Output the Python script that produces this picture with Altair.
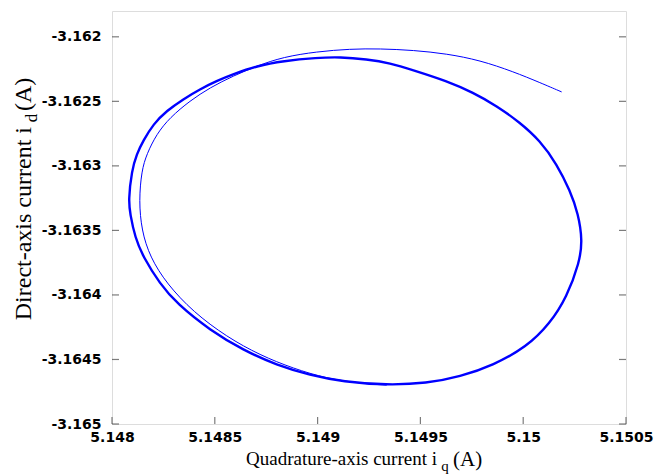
import altair as alt
import pandas as pd

# Axis tick values
x_ticks = [5.148, 5.1485, 5.149, 5.1495, 5.15, 5.1505]
y_ticks = [-3.165, -3.1645, -3.164, -3.1635, -3.163, -3.1625, -3.162]

# Limit cycle (thick closed curve)
cycle_iq = [5.148080, 5.148096, 5.148120, 5.148152, 5.148201, 5.148266, 5.148347,
            5.148428, 5.148509, 5.148590, 5.148704, 5.148833, 5.148996, 5.149109,
            5.149239, 5.149352, 5.149466, 5.149628, 5.149757, 5.149871, 5.149984,
            5.150082, 5.150163, 5.150228, 5.150268, 5.150288, 5.150274, 5.150212,
            5.150130, 5.150017, 5.149855, 5.149693, 5.149531, 5.149336, 5.149125,
            5.148963, 5.148801, 5.148639, 5.148477, 5.148315, 5.148233, 5.148152,
            5.148112, 5.148088]
cycle_id = [-3.163269, -3.163037, -3.162908, -3.162805, -3.162676, -3.162573, -3.162483,
            -3.162406, -3.162342, -3.162290, -3.162226, -3.162187, -3.162162, -3.162156,
            -3.162174, -3.162203, -3.162259, -3.162342, -3.162432, -3.162535, -3.162664,
            -3.162805, -3.162985, -3.163192, -3.163372, -3.163578, -3.163748, -3.164016,
            -3.164222, -3.164403, -3.164544, -3.164634, -3.164685, -3.164699, -3.164673,
            -3.164621, -3.164544, -3.164428, -3.164274, -3.164067, -3.163913, -3.163707,
            -3.163555, -3.163369]

# Transient trajectory (thin line)
trans_iq = [5.150187, 5.150082, 5.149952, 5.149790, 5.149628, 5.149466, 5.149304,
            5.149158, 5.148996, 5.148833, 5.148704, 5.148590, 5.148477, 5.148379,
            5.148282, 5.148217, 5.148169, 5.148144, 5.148131, 5.148144, 5.148185,
            5.148266, 5.148395, 5.148558, 5.148720, 5.148882, 5.149044, 5.149206,
            5.149336]
trans_id = [-3.162427, -3.162355, -3.162270, -3.162182, -3.162131, -3.162104, -3.162092,
            -3.162094, -3.162115, -3.162156, -3.162226, -3.162303, -3.162393, -3.162496,
            -3.162625, -3.162753, -3.162908, -3.163037, -3.163269, -3.163501, -3.163707,
            -3.163913, -3.164132, -3.164325, -3.164467, -3.164570, -3.164647, -3.164685,
            -3.164699]

x_domain = [5.148, 5.1505]
y_domain = [-3.165, -3.1618]

W, H = 514, 413

cycle = pd.DataFrame({"iq": cycle_iq, "id": cycle_id, "k": range(len(cycle_iq))})
trans = pd.DataFrame({"iq": trans_iq, "id": trans_id, "k": range(len(trans_iq))})

label_expr = "replace(format(datum.value, '.5~r'), '\u2212', '-')"

xs = alt.Scale(domain=x_domain, nice=False, zero=False)
ys = alt.Scale(domain=y_domain, nice=False, zero=False)

x_axis = alt.Axis(values=x_ticks, labelExpr=label_expr, grid=False, ticks=False,
                  domain=False, labelFont="DejaVu Sans", labelFontWeight="bold",
                  labelFontSize=14, labelColor="black", labelPadding=6, title=None,
                  labelOverlap=False, labelFlush=False)
y_axis = alt.Axis(values=y_ticks, labelExpr=label_expr, grid=False, ticks=False,
                  domain=False, labelFont="DejaVu Sans", labelFontWeight="bold",
                  labelFontSize=14, labelColor="black", labelPadding=11, title=None,
                  labelOverlap=False, labelFlush=False)

cyc = alt.Chart(cycle).mark_line(color="#0000ff", strokeWidth=2.4, interpolate="basis-closed").encode(
    x=alt.X("iq:Q", scale=xs, axis=x_axis),
    y=alt.Y("id:Q", scale=ys, axis=y_axis),
    order="k:Q",
)
tr = alt.Chart(trans).mark_line(color="#0000ff", strokeWidth=1, interpolate="basis").encode(
    x=alt.X("iq:Q", scale=xs),
    y=alt.Y("id:Q", scale=ys),
    order="k:Q",
)

xt = pd.DataFrame({"v": x_ticks})
yt = pd.DataFrame({"v": y_ticks})
tick_style = dict(color="#444444", thickness=1.2, size=7)
bottom_ticks = alt.Chart(xt).mark_tick(orient="vertical", **tick_style).encode(
    x=alt.X("v:Q", scale=xs), y=alt.value(H - 3.5))
left_ticks = alt.Chart(yt).mark_tick(orient="horizontal", **tick_style).encode(
    y=alt.Y("v:Q", scale=ys), x=alt.value(3.5))
right_ticks = alt.Chart(yt).mark_tick(orient="horizontal", **tick_style).encode(
    y=alt.Y("v:Q", scale=ys), x=alt.value(W - 3.5))

xfont = dict(font="Liberation Serif", fontSize=19, color="black")
yfont = dict(font="Liberation Serif", fontSize=24, color="black")
xt1 = alt.Chart(pd.DataFrame({"t": ["Quadrature-axis current  i"]})).mark_text(
    align="right", baseline="alphabetic", **xfont).encode(
    text="t:N", x=alt.value(325), y=alt.value(454))
xt2 = alt.Chart(pd.DataFrame({"t": ["q"]})).mark_text(
    align="center", baseline="alphabetic", font="Liberation Serif", fontSize=15, color="black").encode(
    text="t:N", x=alt.value(333), y=alt.value(460))
xt3 = alt.Chart(pd.DataFrame({"t": ["(A)"]})).mark_text(
    align="left", baseline="alphabetic", font="Liberation Serif", fontSize=21, color="black").encode(
    text="t:N", x=alt.value(341), y=alt.value(455))

yt1 = alt.Chart(pd.DataFrame({"t": ["Direct-axis current  i"]})).mark_text(
    align="right", baseline="alphabetic", angle=270, **yfont).encode(
    text="t:N", x=alt.value(-81), y=alt.value(116))
yt2 = alt.Chart(pd.DataFrame({"t": ["d"]})).mark_text(
    align="center", baseline="alphabetic", angle=270, font="Liberation Serif", fontSize=17, color="black").encode(
    text="t:N", x=alt.value(-75), y=alt.value(107))
yt3 = alt.Chart(pd.DataFrame({"t": ["(A)"]})).mark_text(
    align="left", baseline="alphabetic", angle=270, **yfont).encode(
    text="t:N", x=alt.value(-81), y=alt.value(100))

chart = alt.layer(cyc, tr, bottom_ticks, left_ticks, right_ticks, xt1, xt2, xt3, yt1, yt2, yt3).properties(
    width=W, height=H,
    autosize=alt.AutoSizeParams(type="none"),
    padding={"left": 104, "top": 3, "right": 29, "bottom": 52},
).configure_view(stroke="black", strokeWidth=1.5).configure(background="white")

chart.save("out.html", embed_options={"renderer": "svg", "actions": False})
